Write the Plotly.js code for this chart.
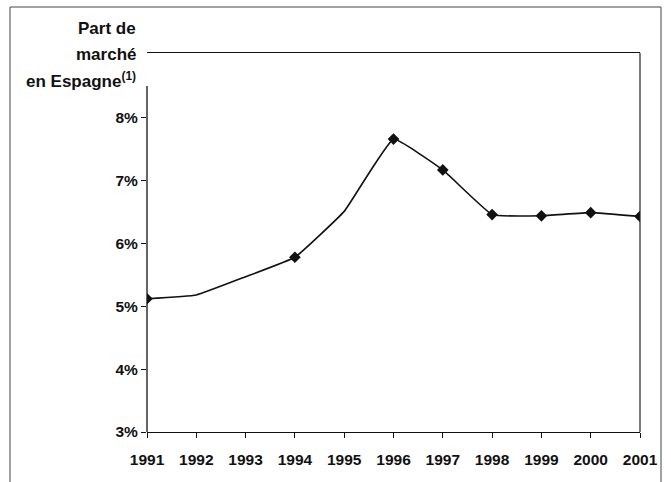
<!DOCTYPE html>
<html>
<head>
<meta charset="utf-8">
<script src="https://cdn.plot.ly/plotly-3.0.1.min.js"></script>
<style>html,body{margin:0;padding:0;background:#fff;}#chart{width:671px;height:482px;}</style>
</head>
<body>
<div id="chart"></div>
<script>
// Data
const years = [1991, 1992, 1993, 1994, 1995, 1996, 1997, 1998, 1999, 2000, 2001];
const share = [5.12, 5.18, 5.47, 5.78, 6.51, 7.66, 7.17, 6.46, 6.44, 6.49, 6.43];
const markedYears = [1991, 1994, 1996, 1997, 1998, 1999, 2000, 2001];
const yTickVals = [3, 4, 5, 6, 7, 8];
const yTickText = ['3%', '4%', '5%', '6%', '7%', '8%'];
const titleLines = ['Part de', 'marché', 'en Espagne<sup>(1)</sup>'];

const markedShare = markedYears.map(y => share[years.indexOf(y)]);

const W = 671, H = 482;
const L = 147, R = 31, T = 53, B = 50;
const pw = W - L - R, ph = H - T - B;
const px = x => (x - L) / pw;
const py = y => (H - B - y) / ph;

const fam = 'Liberation Sans, Arial, sans-serif';

const traces = [
  {x: years, y: share, type: 'scatter', mode: 'lines',
   line: {color: '#111', width: 1.6, shape: 'spline', smoothing: 0.3},
   hoverinfo: 'skip', showlegend: false},
  {x: markedYears, y: markedShare, type: 'scatter', mode: 'markers',
   marker: {symbol: 'diamond', size: 9, color: '#111'},
   showlegend: false}
];

const titleY = [28, 54, 80];
const annotations = titleLines.map((t, i) => ({
  text: '<b>' + t + '</b>', xref: 'paper', yref: 'paper',
  x: px(138), y: py(titleY[i]), xanchor: 'right', yanchor: 'middle',
  showarrow: false, align: 'right', font: {family: fam, size: 17, color: '#111'}
}));

const shapes = [
  {type: 'rect', xref: 'paper', yref: 'paper', x0: px(10), x1: px(661), y0: py(495), y1: py(7),
   line: {color: '#444', width: 1}},
  {type: 'line', xref: 'paper', yref: 'paper', x0: 0, x1: 0, y0: 0, y1: py(86),
   line: {color: '#111', width: 1.3}},
  {type: 'line', xref: 'paper', yref: 'paper', x0: 1, x1: 1, y0: 0, y1: 1,
   line: {color: '#222', width: 1.2}}
];

const layout = {
  width: W, height: H,
  margin: {l: L, r: R, t: T, b: B, pad: 0},
  paper_bgcolor: '#fff', plot_bgcolor: '#fff',
  font: {family: fam, size: 14, color: '#111'},
  xaxis: {range: [1991, 2001], tickmode: 'array', tickvals: years, ticktext: years.map(String),
    ticks: 'outside', ticklen: 5, tickwidth: 1, tickcolor: '#111', ticklabelstandoff: 8,
    showline: true, mirror: true, linecolor: '#111', linewidth: 1.3,
    showgrid: false, zeroline: false, tickfont: {family: fam, size: 15.5, color: '#111', weight: 'bold'}},
  yaxis: {range: [3, 9.03], tickmode: 'array', tickvals: yTickVals, ticktext: yTickText,
    ticks: 'outside', ticklen: 5, tickwidth: 1, tickcolor: '#111',
    showline: false, showgrid: false, zeroline: false,
    tickfont: {family: fam, size: 15.5, color: '#111', weight: 'bold'}},
  annotations: annotations,
  shapes: shapes
};

Plotly.newPlot('chart', traces, layout, {displayModeBar: false, staticPlot: true});
</script>
</body>
</html>
